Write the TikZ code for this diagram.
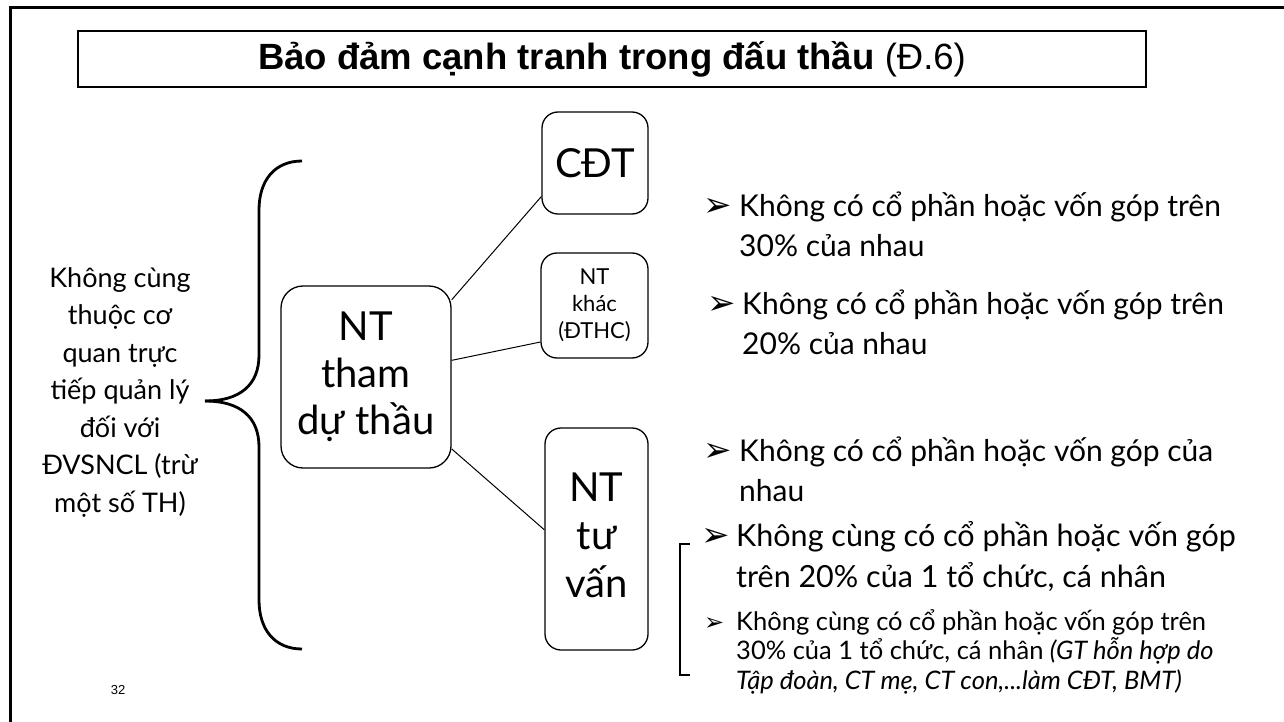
\documentclass[tikz,border=0pt]{standalone}
\usepackage{fontspec}
\setmainfont{Lato}
\newfontfamily\arialf{Liberation Sans}
\newfontfamily\dvs{DejaVu Sans}
\newcommand\blk[1]{\parbox[t]{560pt}{\raggedright #1}}
\begin{document}
\begin{tikzpicture}[x=1pt,y=-1pt,
  frameline/.style={line width=3pt},
  titlebox/.style={draw, line width=2pt, minimum width=1068pt, minimum height=56pt, inner sep=0pt},
  rbox/.style={draw, line width=1.3pt, rounded corners=16pt, inner sep=0pt, align=center},
  conn/.style={line width=1pt},
  bracelin/.style={line width=2.8pt},
  bul/.style={anchor=base west, inner sep=0pt, font=\fontsize{30}{40}\selectfont},
  arr/.style={anchor=base west, inner sep=0pt, font=\dvs\fontsize{34}{34}\selectfont}]
\useasboundingbox (0,0) rectangle (1284,722);
\draw[frameline] (1290,8) -- (10,8) -- (10,730);

\node[titlebox] (title) at (612,59) {\arialf\fontsize{36.5}{40}\selectfont\textbf{Bảo đảm cạnh tranh trong đấu thầu} (Đ.6)};

\node[inner sep=0pt, align=center, font=\fontsize{27}{37.5}\selectfont] (lft) at (120,392)
  {Không cùng\\thuộc cơ\\quan trực\\tiếp quản lý\\đối với\\ĐVSNCL (trừ\\một số TH)};
\draw[bracelin] (302,161) .. controls (275,161) and (259,180) .. (259,210) -- (259,355)
  .. controls (259,385) and (240,401) .. (205,401);
\draw[bracelin] (205,401) .. controls (240,401) and (259,417) .. (259,447) -- (259,600)
  .. controls (259,630) and (275,649) .. (302,649);

\node[rbox, rounded corners=22pt, minimum width=170pt, minimum height=182pt, font=\fontsize{40}{47}\selectfont] (tham) at (366,377) {NT\\tham\\dự thầu};
\node[rbox, minimum width=106pt, minimum height=102pt, font=\fontsize{40}{48}\selectfont] (cdt) at (595,163) {CĐT};
\node[rbox, minimum width=107pt, minimum height=105pt, font=\fontsize{22}{27}\selectfont] (khac) at (594.5,305.5) {NT\\khác\\(ĐTHC)};
\node[rbox, minimum width=103pt, minimum height=222pt, font=\fontsize{40}{48}\selectfont] (tuvan) at (596.5,539) {NT\\tư\\vấn\vphantom{p}};

\draw[conn] (tham.42.2) -- (cdt.212);
\draw[conn] (tham.11.3) -- (khac.214.2);
\draw[conn] (tham.-40.7) -- (tuvan.170.3);

\node[arr] (a1) at (703,216) {➢};
\node[bul] (b1) at (739,216) {\blk{Không có cổ phần hoặc vốn góp trên\\30\% của nhau}};
\node[arr] (a2) at (707,314) {➢};
\node[bul] (b2) at (742,314) {\blk{Không có cổ phần hoặc vốn góp trên\\20\% của nhau}};
\node[arr] (a3) at (703,461) {➢};
\node[bul] (b3) at (739,461) {\blk{Không có cổ phần hoặc vốn góp của\\nhau}};
\node[arr] (a4) at (701,546) {➢};
\node[bul, font=\fontsize{30.5}{41}\selectfont] (b4) at (736,546) {\blk{Không cùng có cổ phần hoặc vốn góp\\trên 20\% của 1 tổ chức, cá nhân}};
\node[arr, font=\dvs\fontsize{24}{24}\selectfont] (a5) at (704,630) {➢};
\node[bul, font=\fontsize{25.5}{29.5}\selectfont] (b5) at (736,630) {\blk{Không cùng có cổ phần hoặc vốn góp trên\\30\% của 1 tổ chức, cá nhân \textit{(GT hỗn hợp do}\\\textit{Tập đoàn, CT mẹ, CT con,...làm CĐT, BMT)}}};

\draw[line width=1.5pt] (690,544) -- (680,544) -- (680,675) -- (690,675);

\node[inner sep=0pt, font=\arialf\fontsize{13}{13}\selectfont] (pg) at (118,690) {32};
\end{tikzpicture}
\end{document}
